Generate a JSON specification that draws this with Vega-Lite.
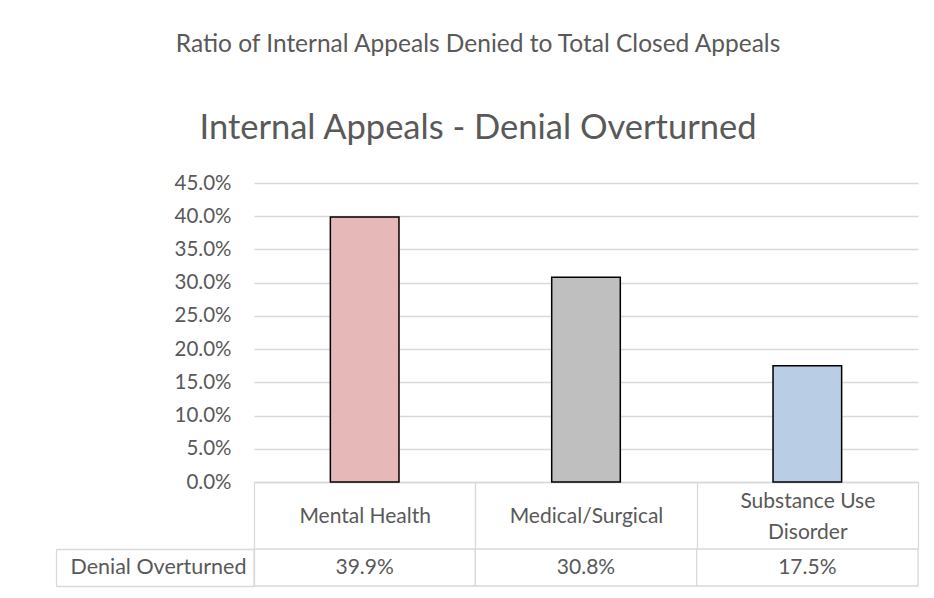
{
  "$schema": "https://vega.github.io/schema/vega-lite/v6.json",
  "padding": {"left": 55, "top": 32, "right": 5, "bottom": 5},
  "background": "white",
  "title": {
    "text": "Ratio of Internal Appeals Denied to Total Closed Appeals",
    "subtitle": "Internal Appeals - Denial Overturned",
    "anchor": "start",
    "frame": "group",
    "align": "center",
    "dx": 224,
    "font": "Lato",
    "fontSize": 24.5,
    "fontWeight": "normal",
    "color": "#595959",
    "subtitleFont": "Lato",
    "subtitleFontSize": 34.5,
    "subtitleColor": "#595959",
    "subtitlePadding": 54,
    "offset": 27
  },
  "datasets": {
    "appeals": [
      {"category": "Mental Health", "rate": 0.399, "series": "Denial Overturned"},
      {"category": "Medical/Surgical", "rate": 0.308, "series": "Denial Overturned"},
      {"category": "Substance Use Disorder", "rate": 0.175, "series": "Denial Overturned"}
    ]
  },
  "bounds": "flush",
  "spacing": 67,
  "vconcat": [
    {
      "width": 664,
      "height": 299,
      "data": {"name": "appeals"},
      "mark": {"type": "bar", "stroke": "black", "strokeWidth": 1.5, "width": {"band": 0.31}},
      "encoding": {
        "x": {
          "field": "category",
          "type": "nominal",
          "sort": null,
          "scale": {"paddingInner": 0, "paddingOuter": 0},
          "axis": {
            "title": null,
            "orient": "bottom",
            "domain": true,
            "domainColor": "#d9d9d9",
            "domainWidth": 1.3,
            "ticks": true,
            "tickBand": "extent",
            "tickSize": 67,
            "tickColor": "#d9d9d9",
            "tickWidth": 1.3,
            "labelAngle": 0,
            "labelAlign": "center",
            "labelBaseline": "middle",
            "labelPadding": {"condition": {"test": "datum.value == 'Substance Use Disorder'", "value": -48}, "value": -33},
            "labelFont": "Lato",
            "labelFontSize": 21,
            "labelColor": "#595959",
            "labelLineHeight": 31,
            "labelLimit": 0,
            "labelExpr": "datum.label == 'Substance Use Disorder' ? ['Substance Use', 'Disorder'] : datum.label"
          }
        },
        "y": {
          "field": "rate",
          "type": "quantitative",
          "scale": {"domain": [0, 0.45], "nice": false},
          "axis": {
            "title": null,
            "values": [0, 0.05, 0.1, 0.15, 0.2, 0.25, 0.3, 0.35, 0.4, 0.45],
            "format": ".1%",
            "domain": false,
            "ticks": false,
            "grid": true,
            "gridColor": "#d9d9d9",
            "gridWidth": 1.3,
            "labelPadding": 23,
            "labelFont": "Lato",
            "labelFontSize": 20.5,
            "labelColor": "#595959"
          }
        },
        "color": {
          "field": "category",
          "type": "nominal",
          "sort": null,
          "scale": {"range": ["#e6b9b8", "#bfbfbf", "#b9cde5"]},
          "legend": null
        }
      }
    },
    {
      "width": 664,
      "height": 37,
      "data": {"name": "appeals"},
      "layer": [
        {
          "mark": {"type": "rect", "fill": "white", "stroke": "#d9d9d9", "strokeWidth": 1.3},
          "encoding": {
            "x": {"field": "category", "type": "nominal", "sort": null, "scale": {"paddingInner": 0, "paddingOuter": 0}, "axis": null},
            "y": {
              "field": "series",
              "type": "nominal",
              "scale": {"paddingInner": 0, "paddingOuter": 0},
              "axis": {
                "title": null,
                "orient": "left",
                "domain": true,
                "domainColor": "#d9d9d9",
                "domainWidth": 1.3,
                "ticks": true,
                "tickBand": "extent",
                "tickSize": 198,
                "tickColor": "#d9d9d9",
                "tickWidth": 1.3,
                "labelAlign": "right",
                "labelPadding": -190,
                "labelFont": "Lato",
                "labelFontSize": 21.5,
                "labelColor": "#595959",
                "labelLimit": 0
              }
            }
          }
        },
        {
          "mark": {"type": "text", "font": "Lato", "fontSize": 21, "color": "#595959"},
          "encoding": {
            "x": {"field": "category", "type": "nominal", "sort": null, "axis": null},
            "y": {
              "field": "series",
              "type": "nominal",
              "scale": {"paddingInner": 0, "paddingOuter": 0},
              "axis": {
                "title": null,
                "orient": "left",
                "offset": 198,
                "domain": true,
                "domainColor": "#d9d9d9",
                "domainWidth": 1.3,
                "ticks": false,
                "labels": false
              }
            },
            "text": {"field": "rate", "type": "quantitative", "format": ".1%"}
          }
        }
      ],
      "resolve": {"scale": {"y": "independent"}, "axis": {"y": "independent"}}
    }
  ],
  "config": {"view": {"stroke": null}, "font": "Lato"}
}
